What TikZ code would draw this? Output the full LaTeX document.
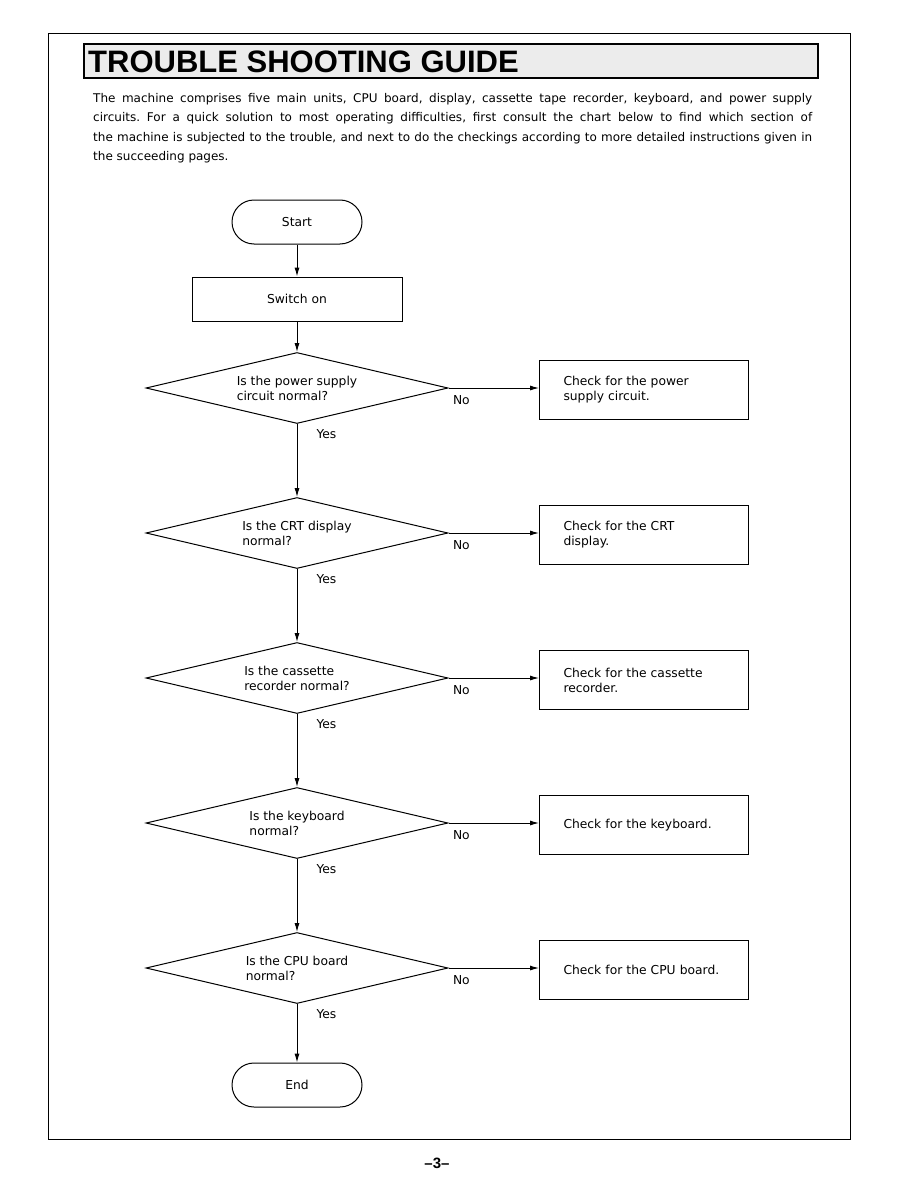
\documentclass[tikz,border=0pt]{standalone}
\usepackage{fontspec}
\setmainfont{DejaVu Sans}
\newfontfamily\titlefont{Liberation Sans}
\usetikzlibrary{shapes.geometric,arrows.meta}
\tikzset{
  term/.style={draw, line width=1pt, rounded corners=22pt, minimum width=130pt, minimum height=44pt, inner sep=0pt},
  proc/.style={draw, line width=1pt, minimum width=210pt, minimum height=44pt, inner sep=0pt},
  ask/.style={draw, diamond, aspect=4.25, line width=1pt, minimum width=302pt, minimum height=71pt, inner sep=0pt, align=left},
  check/.style={draw, line width=1pt, minimum height=59pt, text width=161pt, inner xsep=24pt, align=left},
  nolabel/.style={anchor=north west, inner sep=0pt, xshift=4pt, yshift=-7pt},
  yeslabel/.style={anchor=north west, inner sep=0pt, xshift=19pt, yshift=-5pt},
}

\begin{document}
\begin{tikzpicture}[x=1pt, y=-1pt, >={Latex[length=9pt,width=5pt]}, font=\fontsize{12.3}{15}\selectfont]
    \useasboundingbox (0,0) rectangle (918,1188);
    \draw[line width=0.8pt] (48,33) rectangle (850,1139);
    \node[draw, line width=1.2pt, fill=gray!15, minimum width=734pt, minimum height=34pt, inner sep=0pt] (head) at (451,61) {};
    \node[anchor=west, inner sep=0pt, font=\titlefont\bfseries\fontsize{31}{31}\selectfont] (headtext) at (88,62) {TROUBLE SHOOTING GUIDE};
    \node[anchor=north west, inner sep=0pt, align=left, font=\fontsize{12}{19.5}\selectfont\frenchspacing] (intro) at (93,93) {%
      \makebox[719pt][s]{The machine comprises five main units, CPU board, display, cassette tape recorder, keyboard, and power supply}\\
      \makebox[719pt][s]{circuits. For a quick solution to most operating difficulties, first consult the chart below to find which section of}\\
      \makebox[719pt][s]{the machine is subjected to the trouble, and next to do the checkings according to more detailed instructions given in}\\
      the succeeding pages.};

    \node[term] (start) at (297,222) {Start};
    \node[proc] (switch) at (297,299) {Switch on};
    \node[ask] (q1) at (297,388) {Is the power supply\\circuit normal?};
    \node[ask] (q2) at (297,533) {Is the CRT display\\normal?};
    \node[ask] (q3) at (297,678) {Is the cassette\\recorder normal?};
    \node[ask] (q4) at (297,823) {Is the keyboard\\normal?};
    \node[ask] (q5) at (297,968) {Is the CPU board\\normal?};
    \node[term] (end) at (297,1085) {End};

    \node[check] (c1) at (644,390) {Check for the power\\supply circuit.};
    \node[check] (c2) at (644,535) {Check for the CRT\\display.};
    \node[check] (c3) at (644,680) {Check for the cassette\\recorder.};
    \node[check] (c4) at (644,825) {Check for the keyboard.};
    \node[check] (c5) at (644,970) {Check for the CPU board.};

    \draw[->, line width=1pt] (start) -- (switch);
    \draw[->, line width=1pt] (switch) -- (q1);
    \draw[->, line width=1pt] (q1.south) -- (q2.north) node[pos=0, yeslabel] {Yes};
    \draw[->, line width=1pt] (q2.south) -- (q3.north) node[pos=0, yeslabel] {Yes};
    \draw[->, line width=1pt] (q3.south) -- (q4.north) node[pos=0, yeslabel] {Yes};
    \draw[->, line width=1pt] (q4.south) -- (q5.north) node[pos=0, yeslabel] {Yes};
    \draw[->, line width=1pt] (q5.south) -- (end.north) node[pos=0, yeslabel] {Yes};
    \draw[->, line width=1pt] (q1.east) -- (q1.east -| c1.west) node[pos=0, nolabel] {No};
    \draw[->, line width=1pt] (q2.east) -- (q2.east -| c2.west) node[pos=0, nolabel] {No};
    \draw[->, line width=1pt] (q3.east) -- (q3.east -| c3.west) node[pos=0, nolabel] {No};
    \draw[->, line width=1pt] (q4.east) -- (q4.east -| c4.west) node[pos=0, nolabel] {No};
    \draw[->, line width=1pt] (q5.east) -- (q5.east -| c5.west) node[pos=0, nolabel] {No};

    \node[font=\titlefont\bfseries\fontsize{15}{15}\selectfont] (pageno) at (437,1163) {\textendash3\textendash};
  \end{tikzpicture}
\end{document}
